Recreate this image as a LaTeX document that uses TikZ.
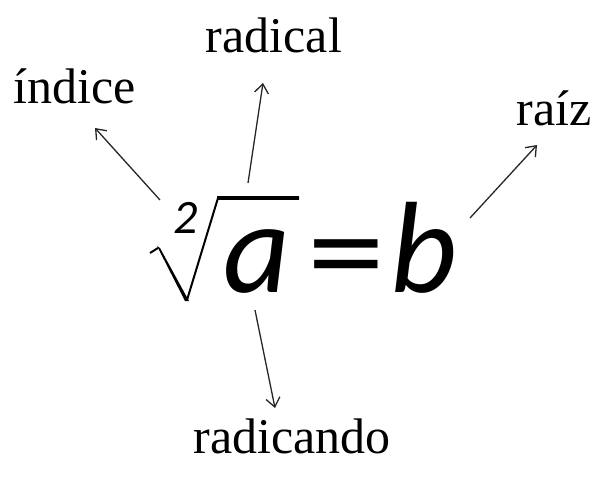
\documentclass[tikz,border=0pt]{standalone}
\usepackage{fontspec}
\setmainfont{Liberation Serif}
\newfontfamily\formfont{Carlito}
\usetikzlibrary{arrows.meta}
\tikzset{
  lbl/.style={font=\fontsize{50}{60}\selectfont, inner sep=0pt, anchor=base},
  sym/.style={font=\formfont\fontsize{130}{150}\selectfont, inner sep=0pt},
  idx/.style={font=\formfont\itshape\fontsize{48}{56}\selectfont, inner sep=0pt},
  arr/.style={line width=1.3pt, draw=black!85, -{Straight Barb[length=9pt,width=14pt,line width=1.3pt]}},
}
\begin{document}
\begin{tikzpicture}[x=1pt,y=-1pt]
\useasboundingbox (0,0) rectangle (608,480);
% labels
\node[lbl] (indice) at (75,103) {índice};
\node[lbl] (radical) at (274,52) {radical};
\node[lbl] (raiz) at (554,125) {raíz};
\node[lbl] (radicando) at (292,453) {radicando};
% formula
\node[sym, anchor=base] (a) at (257,292) {\itshape a};
\node[sym, xscale=1.2] (eq) at (346,268) {=};
\node[sym, anchor=base] (b) at (424,292) {\itshape b};
\node[idx] (two) at (186,218) {2};
\draw[line width=2pt, line join=miter, line cap=butt] (150,253) -- (158,248);
\fill (157,246) -- (160,248) -- (189,301) -- (185,301) -- cycle;
\draw[line width=2pt] (187,300) -- (218,198) -- (299,198);
\draw[line width=3.5pt] (217,198) -- (299,198);
% arrow endpoints
\coordinate (i0) at (160,200);
\coordinate (i1) at (95,128);
\coordinate (r0) at (248,183);
\coordinate (r1) at (263,83);
\coordinate (z0) at (470,218);
\coordinate (z1) at (537,145);
\coordinate (d0) at (255,310);
\coordinate (d1) at (275,408);
\draw[arr] (i0) -- (i1);
\draw[arr] (r0) -- (r1);
\draw[arr] (z0) -- (z1);
\draw[arr] (d0) -- (d1);
\end{tikzpicture}
\end{document}
